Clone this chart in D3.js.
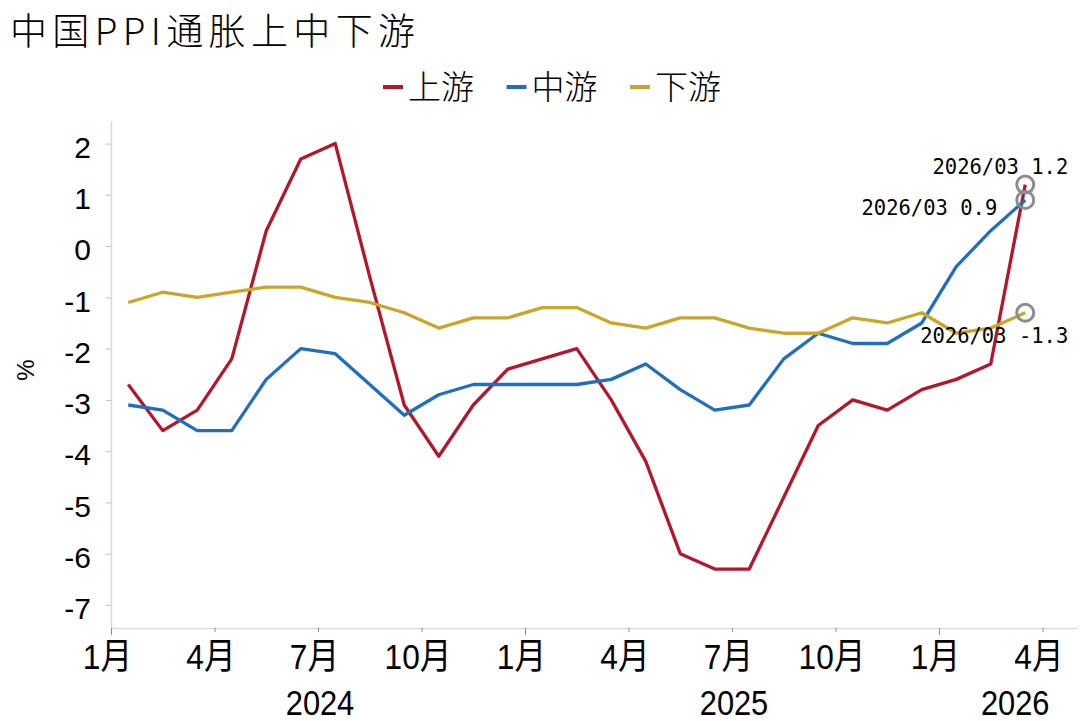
<!DOCTYPE html>
<meta charset="utf-8">
<style>
  body { margin: 0; background: #fff; }
  svg { display: block; }
</style>

<body>
  <script src="https://d3js.org/d3.v7.min.js"></script>
  <script>
    // monthly data, Jan 2024 .. Mar 2026
    var months = ["2024-01", "2024-02", "2024-03", "2024-04", "2024-05", "2024-06",
      "2024-07", "2024-08", "2024-09", "2024-10", "2024-11", "2024-12",
      "2025-01", "2025-02", "2025-03", "2025-04", "2025-05", "2025-06",
      "2025-07", "2025-08", "2025-09", "2025-10", "2025-11", "2025-12",
      "2026-01", "2026-02", "2026-03"];

    var upstream = [-2.7, -3.6, -3.2, -2.2, 0.3, 1.7, 2.0, -0.6, -3.1, -4.1, -3.1, -2.4,
      -2.2, -2.0, -3.0, -4.2, -6.0, -6.3, -6.3, -4.9, -3.5, -3.0, -3.2, -2.8,
      -2.6, -2.3, 1.2];
    var midstream = [-3.1, -3.2, -3.6, -3.6, -2.6, -2.0, -2.1, -2.7, -3.3, -2.9, -2.7, -2.7,
      -2.7, -2.7, -2.6, -2.3, -2.8, -3.2, -3.1, -2.2, -1.7, -1.9, -1.9, -1.5,
      -0.4, 0.3, 0.9];
    var downstream = [-1.1, -0.9, -1.0, -0.9, -0.8, -0.8, -1.0, -1.1, -1.3, -1.6, -1.4, -1.4,
      -1.2, -1.2, -1.5, -1.6, -1.4, -1.4, -1.6, -1.7, -1.7, -1.4, -1.5, -1.3,
      -1.7, -1.6, -1.3];

    var seriesNames = ["上游", "中游", "下游"];
    var seriesColors = ["#b5162c", "#1f6fbe", "#cba52a"];
    var years = ["2024", "2025", "2026"];
    var yTicks = [2, 1, 0, -1, -2, -3, -4, -5, -6, -7];

    var width = 1080,
      height = 721;

    var svg = d3.select("body").append("svg")
      .attr("width", width)
      .attr("height", height);

    // month index scale: 0 = start of Jan 2024, points sit mid-month
    var x = d3.scaleLinear()
      .domain([0, 28])
      .range([111, 1077]);

    var y = d3.scaleLinear()
      .domain([-7.45, 2.44])
      .range([628, 121]);

    // title
    svg.append("text")
      .attr("x", 10)
      .attr("y", 45)
      .attr("textLength", 405)
      .attr("lengthAdjust", "spacing")
      .style("font-family", "'Noto Sans CJK SC', sans-serif")
      .style("font-size", "37px")
      .style("font-weight", 300)
      .text("中国PPI通胀上中下游");

    // legend
    var legend = svg.selectAll(".legend")
      .data(seriesNames)
      .enter()
      .append("g")
      .attr("class", "legend")
      .attr("transform", function (d, i) {
        return "translate(" + (383 + i * 123.5) + ",0)";
      });

    legend.append("line")
      .attr("x1", 0)
      .attr("x2", 20)
      .attr("y1", 87)
      .attr("y2", 87)
      .style("stroke", function (d, i) {
        return seriesColors[i];
      })
      .style("stroke-width", 4);

    legend.append("text")
      .attr("x", 25)
      .attr("y", 99)
      .style("font-family", "'Noto Sans CJK SC', sans-serif")
      .style("font-size", "33px")
      .style("font-weight", 300)
      .text(function (d) {
        return d;
      });

    // y axis
    var yAxis = d3.axisLeft(y)
      .tickValues(yTicks)
      .tickSizeInner(5)
      .tickSizeOuter(0)
      .tickPadding(15)
      .tickFormat(function (d) {
        return String(d);
      });

    var gy = svg.append("g")
      .attr("transform", "translate(" + x(0) + ",0)")
      .call(yAxis);

    gy.select(".domain").style("stroke", "#d9d9d9").style("stroke-width", 1.5);
    gy.selectAll(".tick line").style("stroke", "#bfbfbf");
    gy.selectAll(".tick text")
      .attr("dy", "0.46em")
      .style("font-family", "'Liberation Sans', Arial, sans-serif")
      .style("font-size", "30px")
      .style("fill", "#000");

    svg.append("text")
      .attr("transform", "translate(25,370) rotate(-90)")
      .attr("text-anchor", "middle")
      .attr("dominant-baseline", "central")
      .style("font-family", "'Liberation Sans', Arial, sans-serif")
      .style("font-size", "24px")
      .text("%");

    // x axis
    var xAxis = d3.axisBottom(x)
      .tickValues(d3.range(0, 28, 3))
      .tickSizeInner(4)
      .tickSizeOuter(0)
      .tickFormat(function (d) {
        return (d % 12 + 1) + "月";
      });

    var gx = svg.append("g")
      .attr("transform", "translate(0," + y(-7.45) + ")")
      .call(xAxis);

    gx.select(".domain").style("stroke", "#d9d9d9").style("stroke-width", 1.5);
    gx.selectAll(".tick line")
      .style("stroke", "#8c8c8c")
      .attr("y2", function (d) {
        return d % 12 === 0 ? 7 : 4;
      });
    gx.selectAll(".tick text")
      .attr("dy", null)
      .attr("y", 41)
      .attr("x", -4 / 0.88)
      .attr("transform", "scale(0.88,1)")
      .style("font-family", "'Liberation Sans', 'Noto Sans CJK SC', sans-serif")
      .style("font-size", "36px")
      .style("fill", "#000");

    // year labels, centred on the visible part of each year
    svg.selectAll(".year")
      .data(years)
      .enter()
      .append("text")
      .attr("class", "year")
      .attr("text-anchor", "middle")
      .attr("transform", function (d, i) {
        var a = i * 12,
          b = Math.min(a + 12, x.domain()[1] + 0.3);
        return "translate(" + (x((a + b) / 2) + 2) + ",715) scale(0.88,1)";
      })
      .style("font-family", "'Liberation Sans', Arial, sans-serif")
      .style("font-size", "35px")
      .text(function (d) {
        return d;
      });

    // lines
    var allSeries = [upstream, midstream, downstream];

    var line = d3.line()
      .x(function (d, i) {
        return x(i + 0.5);
      })
      .y(function (d) {
        return y(d);
      });

    svg.selectAll(".series")
      .data(allSeries)
      .enter()
      .append("path")
      .attr("class", "series")
      .attr("d", line)
      .style("fill", "none")
      .style("stroke", function (d, i) {
        return seriesColors[i];
      })
      .style("stroke-width", 3.3)
      .style("stroke-linejoin", "round");

    // last-point markers and labels
    var last = months.length - 1;
    var lastLabel = months[last].replace("-", "/");
    var labelOffsets = [
      [43, -11],
      [-28, 15],
      [43, 30]
    ];

    svg.selectAll(".marker")
      .data(allSeries)
      .enter()
      .append("circle")
      .attr("class", "marker")
      .attr("cx", x(last + 0.5))
      .attr("cy", function (d) {
        return y(d[last]);
      })
      .attr("r", 8.5)
      .style("fill", "none")
      .style("stroke", "#8c8c8c")
      .style("stroke-width", 3);

    svg.selectAll(".endlabel")
      .data(allSeries)
      .enter()
      .append("text")
      .attr("class", "endlabel")
      .attr("text-anchor", "end")
      .attr("x", function (d, i) {
        return x(last + 0.5) + labelOffsets[i][0];
      })
      .attr("y", function (d, i) {
        return y(d[last]) + labelOffsets[i][1];
      })
      .style("font-family", "'DejaVu Sans Mono', 'Liberation Mono', monospace")
      .style("font-size", "20.5px")
      .text(function (d) {
        return lastLabel + " " + d[last].toFixed(1);
      });
  </script>
</body>
